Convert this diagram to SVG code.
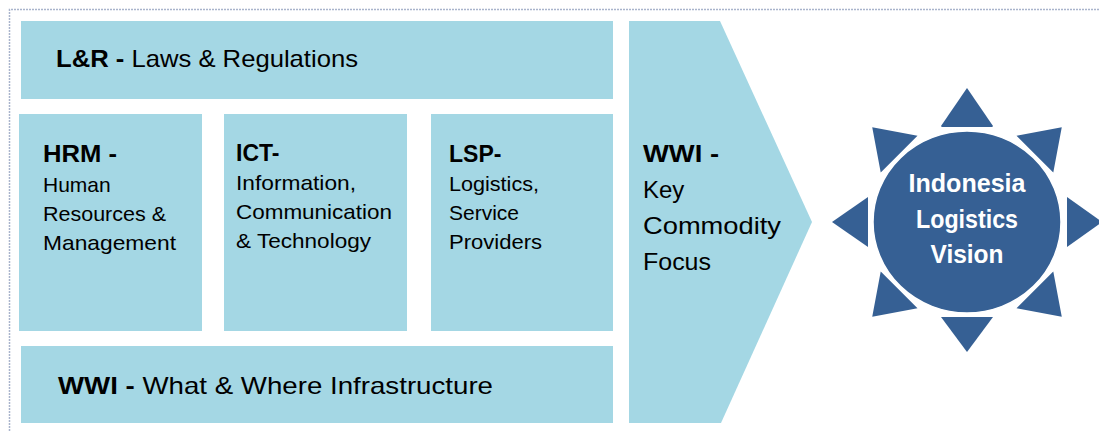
<svg xmlns="http://www.w3.org/2000/svg" width="1099" height="431" viewBox="0 0 1099 431">
<style>
.box{fill:#A4D7E4}
.dark{fill:#366094}
text{font-family:"Liberation Sans",Arial,sans-serif;fill:#000}
.h{font-weight:bold;font-size:23px}
.b{font-size:21px}
.big{font-size:24px}
.w{fill:#fff;font-weight:bold;font-size:25px}
.frame{stroke:#A9B4CC;stroke-width:1.5;stroke-dasharray:2 1;fill:none}
</style>
<rect width="1099" height="431" fill="#fff"/>
<path class="frame" d="M9.5 431V9.5H1099"/>
<g id="lr">
<rect class="box" x="21" y="21" width="592" height="78"/>
<text x="56" y="67" font-size="24" textLength="302" lengthAdjust="spacingAndGlyphs"><tspan font-weight="bold">L&amp;R -</tspan> Laws &amp; Regulations</text>
</g>
<g id="hrm">
<rect class="box" x="19" y="114" width="183" height="217"/>
<text class="h" x="43" y="162" textLength="74" lengthAdjust="spacingAndGlyphs">HRM -</text>
<text class="b" x="43" y="192">Human</text>
<text class="b" x="43" y="221" textLength="123" lengthAdjust="spacingAndGlyphs">Resources &amp;</text>
<text class="b" x="43" y="250" textLength="133" lengthAdjust="spacingAndGlyphs">Management</text>
</g>
<g id="ict">
<rect class="box" x="224" y="114" width="183" height="217"/>
<text class="h" x="236" y="161">ICT-</text>
<text class="b" x="236" y="190" textLength="120" lengthAdjust="spacingAndGlyphs">Information,</text>
<text class="b" x="236" y="219" textLength="156" lengthAdjust="spacingAndGlyphs">Communication</text>
<text class="b" x="236" y="248" textLength="135" lengthAdjust="spacingAndGlyphs">&amp; Technology</text>
</g>
<g id="lsp">
<rect class="box" x="431" y="114" width="182" height="217"/>
<text class="h" x="449" y="162">LSP-</text>
<text class="b" x="449" y="191" textLength="90" lengthAdjust="spacingAndGlyphs">Logistics,</text>
<text class="b" x="449" y="220" textLength="70" lengthAdjust="spacingAndGlyphs">Service</text>
<text class="b" x="449" y="249" textLength="93" lengthAdjust="spacingAndGlyphs">Providers</text>
</g>
<g id="wwi-infra">
<rect class="box" x="21" y="346" width="592" height="77"/>
<text x="58" y="394" font-size="24" textLength="435" lengthAdjust="spacingAndGlyphs"><tspan font-weight="bold">WWI -</tspan> What &amp; Where Infrastructure</text>
</g>
<g id="wwi-key">
<polygon class="box" points="629,21 720,21 812,222 721,423 629,423"/>
<text class="h" x="643" y="162" font-size="24" textLength="76" lengthAdjust="spacingAndGlyphs">WWI -</text>
<text class="big" x="643" y="198">Key</text>
<text class="big" x="643" y="234" textLength="138" lengthAdjust="spacingAndGlyphs">Commodity</text>
<text class="big" x="643" y="270" textLength="68" lengthAdjust="spacingAndGlyphs">Focus</text>
</g>
<g id="vision">
<g class="dark">
<polygon points="941,127 993,127 967,92"/>
<polygon points="941,317 993,317 967,352"/>
<polygon points="868,197 868,247 832,222"/>
<polygon points="1067,197 1067,247 1102,222"/>
<polygon id="ray" points="941,126 993,126 967,88"/>
<use href="#ray" transform="rotate(45 967 222)"/>
<use href="#ray" transform="rotate(135 967 222)"/>
<use href="#ray" transform="rotate(225 967 222)"/>
<use href="#ray" transform="rotate(315 967 222)"/>
<ellipse cx="967" cy="222" rx="94" ry="91" stroke="#fff" stroke-width="1.5"/>
</g>
<text class="w" x="967" y="192" text-anchor="middle" textLength="117" lengthAdjust="spacingAndGlyphs">Indonesia</text>
<text class="w" x="967" y="228" text-anchor="middle" textLength="102" lengthAdjust="spacingAndGlyphs">Logistics</text>
<text class="w" x="967" y="263" text-anchor="middle" textLength="73" lengthAdjust="spacingAndGlyphs">Vision</text>
</g>
<g id="connectors"/>
</svg>
